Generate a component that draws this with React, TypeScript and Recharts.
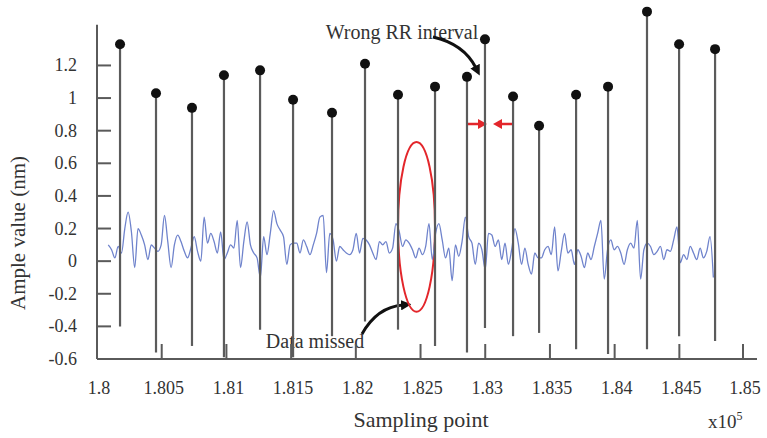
import { ComposedChart, Line, XAxis, YAxis, ReferenceLine, ReferenceArea, Customized } from 'recharts';

// sampling points (raw), amplitude in nm
const xTicks = [180000, 180500, 181000, 181500, 182000, 182500, 183000, 183500, 184000, 184500, 185000];
const yTicks = [-0.6, -0.4, -0.2, 0, 0.2, 0.4, 0.6, 0.8, 1, 1.2];

const peakSamples = [180178, 180456, 180734, 180981, 181260, 181515, 181816, 182071, 182326, 182612, 182859, 182998, 183215, 183416, 183702, 183949, 184250, 184498, 184776];
const peakValues = [1.33, 1.03, 0.94, 1.14, 1.17, 0.99, 0.91, 1.21, 1.02, 1.07, 1.13, 1.36, 1.01, 0.83, 1.02, 1.07, 1.53, 1.33, 1.3];
const stemBottoms = [-0.4, -0.56, -0.52, -0.59, -0.42, -0.59, -0.46, -0.37, -0.42, -0.52, -0.56, -0.41, -0.46, -0.44, -0.54, -0.57, -0.54, -0.46, -0.49];

const SIGNAL_START = 180087;
const SIGNAL_STEP = 25.55;
const signalValues = [
  0.10, 0.07, 0.02, 0.09, 0.05, 0.20, 0.30, 0.18, -0.04, 0.20, 0.16, 0.10, 0.01, 0.10, 0.08, 0.06, 0.10, 0.28, 0.12, -0.04,
  0.10, 0.16, 0.12, 0.06, 0.02, 0.08, 0.15, 0.06, 0.00, 0.27, 0.11, 0.17, 0.12, 0.05, 0.18, 0.01, 0.05, 0.10, 0.08, 0.25,
  -0.04, 0.12, 0.24, 0.10,
  0.05, 0.02, -0.10, 0.15, 0.04, 0.17, 0.31, 0.23, 0.19, 0.15, -0.02, 0.10, 0.11, 0.11, 0.05, 0.13, 0.09, 0.04, 0.10, 0.17,
  0.27, 0.28, -0.07, 0.17, 0.13, 0.00, 0.09, 0.07, 0.05, 0.04, 0.07, 0.17, 0.05, 0.14, 0.13, 0.10, 0.05, 0.01, 0.12, 0.10,
  0.12, 0.05, 0.08, 0.23, 0.18, 0.09, 0.13,
  0.11, 0.07, 0.02, 0.08, 0.04, 0.09, 0.23, 0.01, 0.17, 0.23, 0.13, 0.02, 0.08, -0.12, 0.10, 0.03, 0.12, 0.27, 0.15, 0.11,
  -0.02, 0.11, 0.07, -0.05, 0.17, 0.16, 0.09, 0.13, 0.01, 0.11, -0.02, 0.07, 0.20, 0.11, -0.02, 0.08, -0.02, -0.08, 0.05, 0.02,
  0.02, 0.07, 0.09, 0.04, 0.21, -0.06, 0.06,
  0.17, 0.05, 0.07, -0.02, 0.07, 0.03, -0.04, 0.05, 0.01, 0.09, 0.17, 0.25, -0.11, 0.07, 0.13, 0.07, 0.09, 0.05, -0.02, 0.07,
  0.11, 0.08, 0.25, -0.11, 0.07, 0.11, 0.09, 0.04, 0.06, 0.09, 0.01, 0.07, 0.06, 0.13, 0.21, -0.01, 0.04, 0.01, 0.09, 0.05,
  0.01, 0.08, 0.02, 0.06, 0.15, -0.10,
];

// missed-data region (ellipse), in data units
const missedCenter = 182469;
const missedHalfWidth = 143;
const missedMid = 0.21;
const missedHalfHeight = 0.52;

const signal = signalValues.map((v, i) => ({ t: SIGNAL_START + i * SIGNAL_STEP, v }));
const stems = peakSamples.map((t, i) => [
  { t, v: stemBottoms[i] },
  { t, v: peakValues[i] },
]);

const SERIF = { fontFamily: "Liberation Serif, Tinos, DejaVu Serif, serif" };
const AXIS = '#5a5a5a';
const TEXT = '#333';

const XTick = ({ x, y, payload }: any) => (
  <g>
    <line x1={x} x2={x} y1={y - 22} y2={y - 37} stroke={AXIS} strokeWidth={2} />
    <text x={x + 2} y={y} dy={13} textAnchor="middle" style={SERIF} fontSize={18} fill={TEXT}>
      {String(payload.value / 100000)}
    </text>
  </g>
);

const YTick = ({ x, y, payload }: any) => (
  <g>
    <line x1={x + 20} x2={x + 34} y1={y} y2={y} stroke={AXIS} strokeWidth={2} />
    <text x={x} y={y} dy={6} textAnchor="end" style={SERIF} fontSize={18} fill={TEXT}>
      {String(payload.value)}
    </text>
  </g>
);

const peakDot = (p: any) =>
  p.index === 1 ? (
    <circle key={`pk-${p.index}`} cx={p.cx} cy={p.cy} r={5} fill="#111" />
  ) : (
    <g key={`pk-${p.index}`} />
  );

const Annotations = () => (
  <g style={SERIF} fill={TEXT}>
    <defs>
      <marker id="arrowBlack" viewBox="0 0 10 10" refX="2" refY="5" markerWidth="3.5" markerHeight="3.5" orient="auto">
        <path d="M0,0 L10,5 L0,10 z" fill="#111" />
      </marker>
    </defs>
    <text x={18} y={233} transform="rotate(-90 18 233)" textAnchor="middle" dominantBaseline="central" fontSize={21}>
      Ample value (nm)
    </text>
    <text x={421} y={427} textAnchor="middle" fontSize={22}>Sampling point</text>
    <text x={708} y={428} fontSize={19}>
      x10<tspan dy={-8} fontSize={12}>5</tspan>
    </text>

    <text x={402} y={39} textAnchor="middle" fontSize={20}>Wrong RR interval</text>
    <path d="M433,37 Q464,44 476,68" stroke="#111" strokeWidth={3} fill="none" markerEnd="url(#arrowBlack)" />

    <line x1={468} x2={480} y1={124} y2={124} stroke="#e3262b" strokeWidth={2.5} />
    <polygon points="487,124 478,119 478,129" fill="#e3262b" />
    <line x1={512} x2={500} y1={124} y2={124} stroke="#e3262b" strokeWidth={2.5} />
    <polygon points="493,124 502,119 502,129" fill="#e3262b" />

    <text x={315} y={348} textAnchor="middle" fontSize={20}>Data missed</text>
    <path d="M362,334 Q377,307 403,305" stroke="#111" strokeWidth={3} fill="none" markerEnd="url(#arrowBlack)" />
  </g>
);

export default function App() {
  return (
    <div style={{ position: 'absolute', left: 0, top: 0, width: 767, height: 438, background: '#fff' }}>
      <ComposedChart width={767} height={438} margin={{ top: 10, right: 10, bottom: 19, left: 52 }}>
        <XAxis
          dataKey="t"
          type="number"
          domain={[180000, 185100]}
          ticks={xTicks}
          axisLine={{ stroke: AXIS, strokeWidth: 2 }}
          tickLine={false}
          tickSize={0}
          tickMargin={22}
          tick={XTick}
          height={60}
        />
        <YAxis
          type="number"
          domain={[-0.6, 1.54]}
          ticks={yTicks}
          axisLine={false}
          tickLine={false}
          tickSize={0}
          tickMargin={20}
          tick={YTick}
          width={45}
        />
        <ReferenceLine
          segment={[{ x: 180000, y: -0.6 }, { x: 180000, y: 1.45 }]}
          stroke={AXIS}
          strokeWidth={2}
        />
        <Line
          data={signal}
          dataKey="v"
          type="monotone"
          stroke="#6f83cc"
          strokeWidth={1.3}
          dot={false}
          activeDot={false}
          isAnimationActive={false}
        />
        {stems.map((d, i) => (
          <Line
            key={i}
            data={d}
            dataKey="v"
            type="linear"
            stroke="#5b5b5b"
            strokeWidth={2.2}
            dot={peakDot}
            activeDot={false}
            isAnimationActive={false}
          />
        ))}
        <ReferenceArea
          x1={missedCenter - missedHalfWidth}
          x2={missedCenter + missedHalfWidth}
          y1={missedMid - missedHalfHeight}
          y2={missedMid + missedHalfHeight}
          shape={(p: any) => (
            <ellipse
              cx={p.x + p.width / 2}
              cy={p.y + p.height / 2}
              rx={p.width / 2}
              ry={p.height / 2}
              fill="none"
              stroke="#e3262b"
              strokeWidth={2}
            />
          )}
        />
        <Customized component={Annotations} />
      </ComposedChart>
    </div>
  );
}
